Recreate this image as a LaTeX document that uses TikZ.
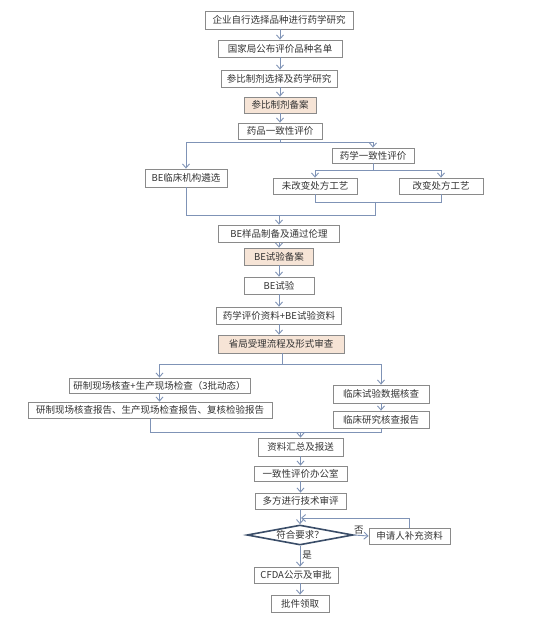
\documentclass[tikz,border=0pt]{standalone}
\usepackage{fontspec}
\setmainfont{Noto Sans CJK SC}
\usetikzlibrary{arrows.meta,shapes.geometric}
\definecolor{boxline}{HTML}{8A8A8A}
\definecolor{conn}{HTML}{7F93B6}
\definecolor{peach}{HTML}{F6E4D6}
\definecolor{txt}{HTML}{333333}
\definecolor{dia}{HTML}{3A4D68}
\tikzset{
  box/.style={draw=boxline, line width=0.8pt, rectangle, inner sep=0pt, text=txt,
    font=\fontsize{9.5pt}{11pt}\selectfont},
  fbox/.style={box, fill=peach},
  lalign/.style={align=left},
  line/.style={draw=conn, line width=0.9pt},
  arr/.style={line, -{Straight Barb[length=4pt,width=7pt]}},
  lbl/.style={text=txt, font=\fontsize{9.5pt}{11pt}\selectfont, inner sep=0pt},
}
\begin{document}
\begin{tikzpicture}[x=1pt,y=-1pt]
\useasboundingbox (0,0) rectangle (547,617);
\fill[white] (0,0) rectangle (547,617);
% nodes
\node[box, minimum width=148pt, minimum height=18pt] (n1) at (279,20) {企业自行选择品种进行药学研究};
\node[box, minimum width=124pt, minimum height=17pt] (n2) at (280,48.5) {国家局公布评价品种名单};
\node[box, minimum width=116pt, minimum height=17pt] (n3) at (279,78.5) {参比制剂选择及药学研究};
\node[fbox, minimum width=72pt, minimum height=16pt] (n4) at (280,105) {参比制剂备案};
\node[box, minimum width=84pt, minimum height=16pt] (n5) at (280,131) {药品一致性评价};
\node[box, minimum width=82pt, minimum height=15pt] (n6) at (373,155.5) {药学一致性评价};
\node[box, minimum width=82pt, minimum height=18pt] (n7) at (186,178) {BE临床机构遴选\hspace{8pt}};
\node[box, minimum width=84pt, minimum height=16pt] (n8) at (315,186) {未改变处方工艺};
\node[box, minimum width=84pt, minimum height=16pt] (n9) at (441,186) {改变处方工艺};
\node[box, minimum width=121pt, minimum height=17pt] (n10) at (279,233.5) {BE样品制备及通过伦理\hspace{10pt}};
\node[fbox, minimum width=69pt, minimum height=17pt] (n11) at (279,256.5) {BE试验备案\hspace{6pt}};
\node[box, minimum width=70pt, minimum height=17pt] (n12) at (279,285.5) {BE试验\hspace{26pt}};
\node[box, minimum width=125pt, minimum height=17pt] (n13) at (279,315.5) {药学评价资料+BE试验资料};
\node[fbox, minimum width=126pt, minimum height=18pt] (n14) at (281,344) {省局受理流程及形式审查};
\node[box, minimum width=181pt, minimum height=15pt] (n15) at (159.5,385.5) {研制现场核查+生产现场检查（3批动态）};
\node[box, minimum width=244pt, minimum height=16pt] (n16) at (150,410) {研制现场核查报告、生产现场检查报告、复核检验报告};
\node[box, minimum width=96pt, minimum height=18pt] (n17) at (381,394) {临床试验数据核查};
\node[box, minimum width=96pt, minimum height=17pt] (n18) at (381,419.5) {临床研究核查报告};
\node[box, minimum width=85pt, minimum height=18pt] (n19) at (300.5,447) {资料汇总及报送};
\node[box, minimum width=93pt, minimum height=15pt] (n20) at (300.5,473.5) {一致性评价办公室};
\node[box, minimum width=91pt, minimum height=16pt] (n21) at (300.5,501) {多方进行技术审评};
\node[diamond, draw=dia, line width=1.6pt, aspect=5.3, minimum width=106pt, minimum height=20pt, inner sep=0pt, text=txt, font=\fontsize{9.5pt}{11pt}\selectfont] (d) at (300,535) {符合要求？};
\node[box, minimum width=81pt, minimum height=16pt] (n22) at (409.5,536) {申请人补充资料};
\node[box, minimum width=84pt, minimum height=16pt] (n23) at (296,575) {CFDA公示及审批};
\node[box, minimum width=58pt, minimum height=17pt] (n24) at (300,603.5) {批件领取};
% connectors
\draw[arr] (n1.south -| 280,0) -- (n2.north -| 280,0);
\draw[arr] (n2.south -| 280,0) -- (n3.north -| 280,0);
\draw[arr] (n3.south -| 280,0) -- (n4.north -| 280,0);
\draw[arr] (n4.south) -- (n5.north);
\coordinate (j1) at (280,142);
\draw[line] (n5.south) -- (j1);
\draw[arr] (j1) -| (n7.north);
\draw[arr] (j1) -| (n6.north);
\coordinate (j2) at (373,170);
\draw[line] (n6.south) -- (j2);
\draw[arr] (j2) -| (n8.north);
\draw[arr] (j2) -| (n9.north);
\coordinate (j3) at (375,202);
\draw[line] (n8.south) |- (j3);
\draw[line] (n9.south) |- (j3);
\coordinate (j4) at (279,215);
\draw[line] (j3) |- (j4);
\draw[line] (n7.south) |- (j4);
\draw[arr] (j4) -- (n10.north);
\draw[arr] (n10.south) -- (n11.north);
\draw[arr] (n11.south) -- (n12.north);
\draw[arr] (n12.south) -- (n13.north);
\draw[arr] (n13.south) -- (n13.south |- n14.north);
\coordinate (j5) at (282,364);
\draw[line] (n14.south -| j5) -- (j5);
\draw[arr] (j5) -| (n15.north);
\draw[arr] (j5) -| (n17.north);
\draw[arr] (n15.south) -- (n15.south |- n16.north);
\draw[arr] (n17.south) -- (n18.north);
\coordinate (j6) at (300.5,432);
\draw[line] (n16.south) |- (j6);
\draw[line] (n18.south) |- (j6);
\draw[arr] (j6) -- (n19.north);
\draw[arr] (n19.south) -- (n20.north);
\draw[arr] (n20.south) -- (n21.north);
\draw[arr] (n21.south -| d.north) -- (d.north);
\draw[arr] (d.east) -- (n22.west) node[lbl, pos=0.35, above=1pt] {否};
\coordinate (j7) at (301,518);
\draw[arr] (n22.north) |- (j7);
\draw[arr] (d.south) -- (d.south |- n23.north) node[lbl, pos=0.45, right=2pt] {是};
\draw[arr] (n23.south -| d.south) -- (n24.north -| d.south);
\end{tikzpicture}
\end{document}
